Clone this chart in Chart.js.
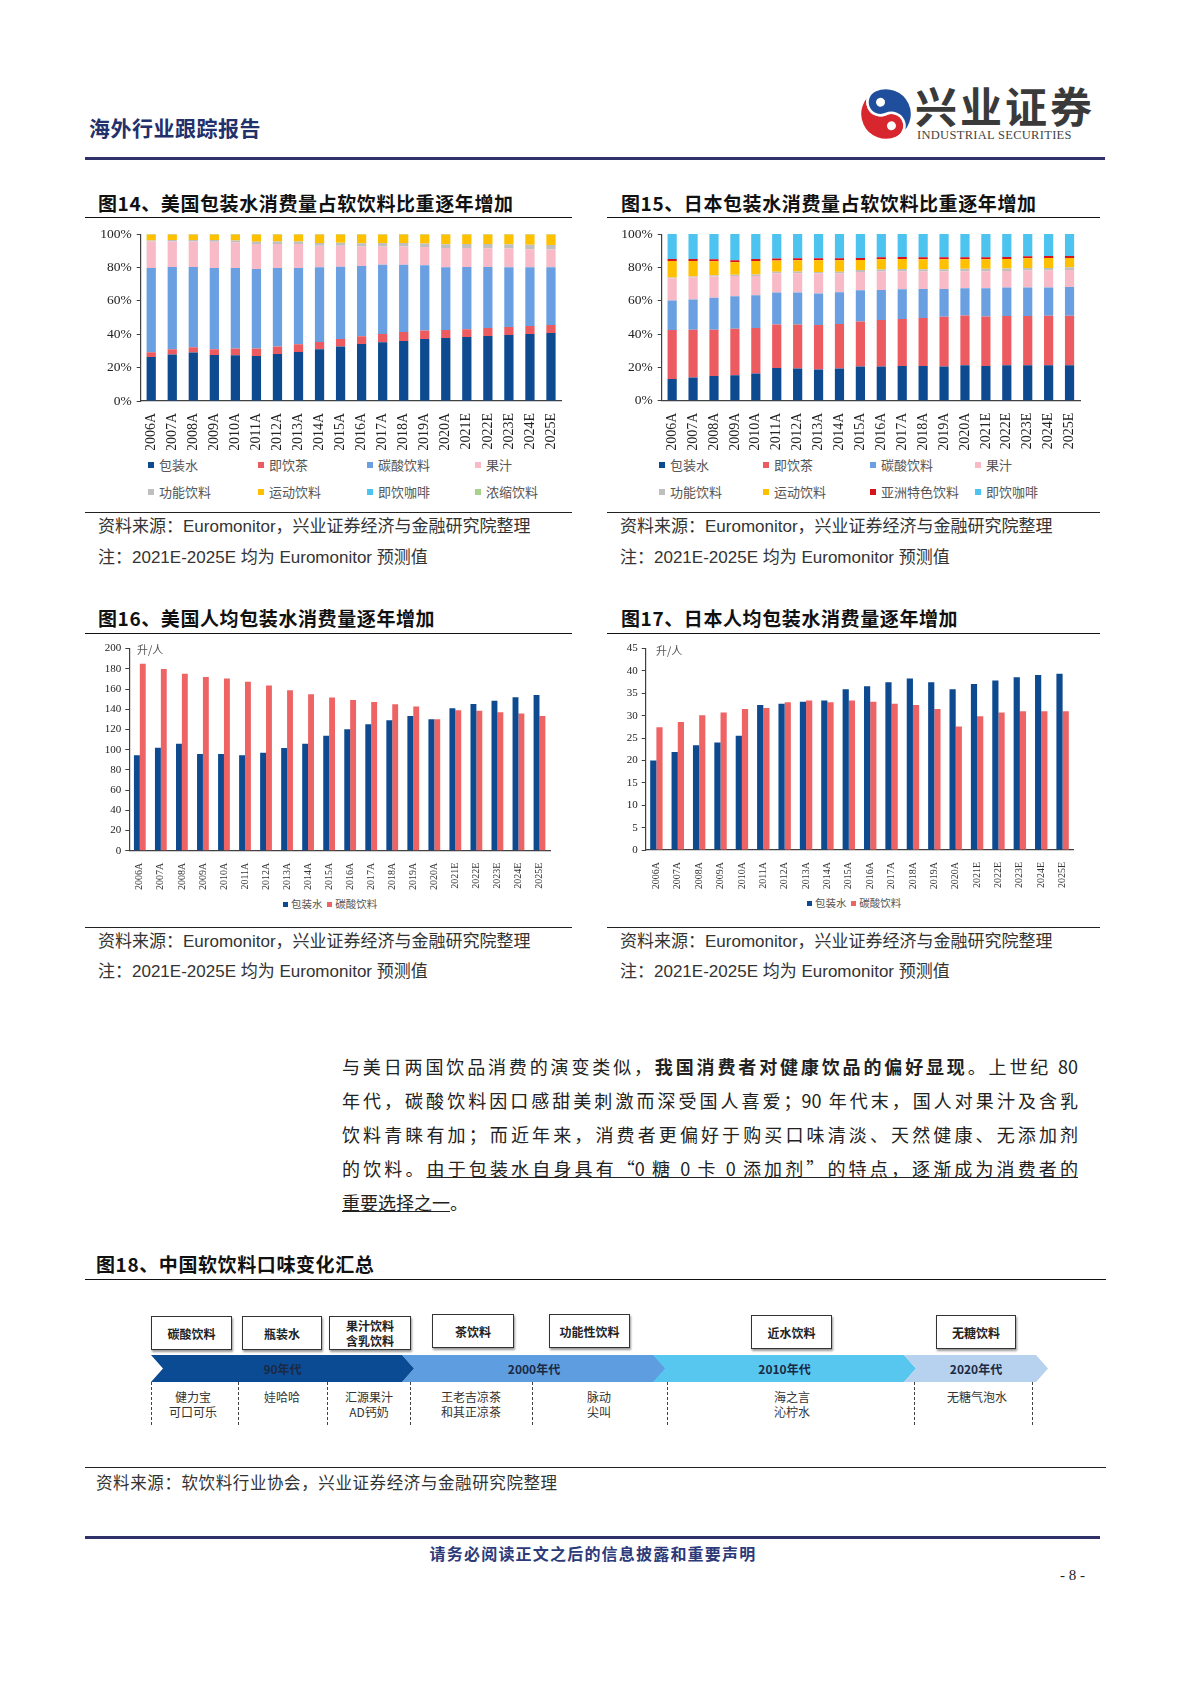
<!DOCTYPE html>
<html>
<head>
<meta charset="utf-8">
<script src="https://cdn.jsdelivr.net/npm/chart.js@4.4.0/dist/chart.umd.min.js"></script>
<style>
body{margin:0;background:#fff;}
#page{position:relative;width:1190px;height:1683px;overflow:hidden;background:#fff;font-family:"Noto Sans CJK SC",sans-serif;color:#222;}
.ttl{position:absolute;font-weight:700;font-size:19px;letter-spacing:0.6px;color:#111;line-height:22px;white-space:nowrap;}
.rule{position:absolute;height:0;border-top:1px solid #222;}
.src{position:absolute;font-size:17px;color:#333;white-space:nowrap;font-family:"Liberation Sans","Noto Sans CJK SC",sans-serif;line-height:20px;}
.lg{position:absolute;font-size:13px;color:#555;white-space:nowrap;line-height:16px;}
.lg i{display:inline-block;width:6px;height:6px;margin-right:5px;vertical-align:2px;}
.lgs{position:absolute;font-size:10.5px;color:#555;white-space:nowrap;line-height:14px;}
.lgs i{display:inline-block;width:5px;height:5px;margin-right:3px;vertical-align:1px;}
.unit{position:absolute;font-size:11px;color:#555;line-height:14px;}
.box{position:absolute;background:#fff;border:1.5px solid #333;box-shadow:1px 2px 2px #999;font-size:12px;font-weight:700;color:#222;display:flex;align-items:center;justify-content:center;text-align:center;line-height:15px;box-sizing:border-box;}
.seg{position:absolute;top:1355px;height:27px;font-size:12px;font-weight:700;color:#1b2a44;display:flex;align-items:center;justify-content:center;}
.dash{position:absolute;top:1382px;height:43px;border-left:1.3px dashed #444;}
.brand{position:absolute;font-size:12px;color:#333;text-align:center;line-height:15px;white-space:nowrap;}
.para{position:absolute;left:342px;width:736px;font-size:18px;line-height:24px;color:#222;white-space:nowrap;}
.para.j{text-align:justify;text-align-last:justify;}
.wrap{position:absolute;}
</style>
</head>
<body>
<div id="page">

  <!-- 页眉 -->
  <div style="position:absolute;left:89px;top:114px;font-size:21px;font-weight:700;color:#22306b;letter-spacing:0.5px;line-height:26px;">海外行业跟踪报告</div>
  <svg style="position:absolute;left:858px;top:85px;" width="56" height="58" viewBox="0 0 56 58">
    <g transform="rotate(-25 28 29)">
      <path d="M28,3 A26,26 0 0 0 28,55 A13,13 0 0 0 28,29 A13,13 0 0 1 28,3 Z" fill="#d7262e" stroke="#fff" stroke-width="2.5"/>
      <path d="M28,55 A26,26 0 0 0 28,3 A13,13 0 0 0 28,29 A13,13 0 0 1 28,55 Z" fill="#1f4f9c" stroke="#fff" stroke-width="2.5"/>
      <circle cx="28" cy="16" r="4.5" fill="#fff"/>
      <circle cx="28" cy="42" r="4.5" fill="#fff"/>
    </g>
  </svg>
  <div style="position:absolute;left:915px;top:80px;font-size:42px;font-weight:700;color:#3a3a3a;letter-spacing:3px;line-height:50px;">兴业证券</div>
  <div style="position:absolute;left:917px;top:128px;font-size:12.5px;color:#444;font-family:'Liberation Serif',serif;line-height:14px;letter-spacing:0.3px;">INDUSTRIAL SECURITIES</div>
  <div style="position:absolute;left:85px;top:157px;width:1020px;height:3px;background:#2f3168;"></div>

  <!-- 图14 -->
  <div class="ttl" style="left:98px;top:192px;">图14、美国包装水消费量占软饮料比重逐年增加</div>
  <div class="rule" style="left:85px;top:217px;width:487px;border-top:1.5px solid #111;"></div>
  <div class="wrap" style="left:86px;top:221px;width:486px;height:229px;"><canvas id="c14"></canvas></div>
  <div id="lg14"></div>
  <div class="rule" style="left:85px;top:512px;width:487px;"></div>
  <div class="src" style="left:98px;top:517px;">资料来源：Euromonitor，兴业证券经济与金融研究院整理</div>
  <div class="src" style="left:98px;top:548px;">注：2021E-2025E 均为 Euromonitor 预测值</div>

  <!-- 图15 -->
  <div class="ttl" style="left:621px;top:192px;">图15、日本包装水消费量占软饮料比重逐年增加</div>
  <div class="rule" style="left:607px;top:217px;width:493px;border-top:1.5px solid #111;"></div>
  <div class="wrap" style="left:607px;top:221px;width:486px;height:229px;"><canvas id="c15"></canvas></div>
  <div id="lg15"></div>
  <div class="rule" style="left:607px;top:512px;width:493px;"></div>
  <div class="src" style="left:620px;top:517px;">资料来源：Euromonitor，兴业证券经济与金融研究院整理</div>
  <div class="src" style="left:620px;top:548px;">注：2021E-2025E 均为 Euromonitor 预测值</div>

  <!-- 图16 -->
  <div class="ttl" style="left:98px;top:607px;">图16、美国人均包装水消费量逐年增加</div>
  <div class="rule" style="left:85px;top:633px;width:487px;border-top:1.5px solid #111;"></div>
  <div class="wrap" style="left:86px;top:638px;width:480px;height:252px;"><canvas id="c16"></canvas></div>
  <div class="unit" style="left:137px;top:642px;">升/人</div>
  <div class="lgs" style="left:283px;top:897px;"><i style="background:#0d4a90"></i>包装水 &nbsp;<i style="background:#ee6464"></i>碳酸饮料</div>
  <div class="rule" style="left:85px;top:927px;width:487px;"></div>
  <div class="src" style="left:98px;top:932px;">资料来源：Euromonitor，兴业证券经济与金融研究院整理</div>
  <div class="src" style="left:98px;top:962px;">注：2021E-2025E 均为 Euromonitor 预测值</div>

  <!-- 图17 -->
  <div class="ttl" style="left:621px;top:607px;">图17、日本人均包装水消费量逐年增加</div>
  <div class="rule" style="left:607px;top:633px;width:493px;border-top:1.5px solid #111;"></div>
  <div class="wrap" style="left:607px;top:638px;width:480px;height:252px;"><canvas id="c17"></canvas></div>
  <div class="unit" style="left:656px;top:643px;">升/人</div>
  <div class="lgs" style="left:807px;top:896px;"><i style="background:#0d4a90"></i>包装水 &nbsp;<i style="background:#ee6464"></i>碳酸饮料</div>
  <div class="rule" style="left:607px;top:927px;width:493px;"></div>
  <div class="src" style="left:620px;top:932px;">资料来源：Euromonitor，兴业证券经济与金融研究院整理</div>
  <div class="src" style="left:620px;top:962px;">注：2021E-2025E 均为 Euromonitor 预测值</div>

  <!-- 正文 -->
  <div class="para j" style="top:1054px;">与美日两国饮品消费的演变类似，<b>我国消费者对健康饮品的偏好显现</b>。上世纪 80</div>
  <div class="para j" style="top:1088px;">年代，碳酸饮料因口感甜美刺激而深受国人喜爱；90 年代末，国人对果汁及含乳</div>
  <div class="para j" style="top:1122px;">饮料青睐有加；而近年来，消费者更偏好于购买口味清淡、天然健康、无添加剂</div>
  <div class="para j" style="top:1156px;">的饮料。<u>由于包装水自身具有“0 糖 0 卡 0 添加剂”的特点，逐渐成为消费者的</u></div>
  <div class="para" style="top:1190px;"><u>重要选择之一</u>。</div>

  <!-- 图18 -->
  <div class="ttl" style="left:96px;top:1253px;">图18、中国软饮料口味变化汇总</div>
  <div class="rule" style="left:85px;top:1279px;width:1021px;border-top:1.5px solid #111;"></div>

  <div class="box" style="left:151px;top:1316px;width:81px;height:34px;">碳酸饮料</div>
  <div class="box" style="left:242px;top:1316px;width:80px;height:34px;">瓶装水</div>
  <div class="box" style="left:329px;top:1316px;width:82px;height:34px;">果汁饮料<br>含乳饮料</div>
  <div class="box" style="left:432px;top:1314px;width:82px;height:34px;">茶饮料</div>
  <div class="box" style="left:549px;top:1314px;width:81px;height:34px;">功能性饮料</div>
  <div class="box" style="left:751px;top:1315px;width:81px;height:34px;">近水饮料</div>
  <div class="box" style="left:936px;top:1315px;width:80px;height:34px;">无糖饮料</div>

  <div class="seg" style="left:402px;width:264px;background:#5e9de0;clip-path:polygon(0 0,252px 0,264px 50%,252px 100%,0 100%,12px 50%);">2000年代</div>
  <div class="seg" style="left:653px;width:263px;background:#58c7ef;clip-path:polygon(0 0,251px 0,263px 50%,251px 100%,0 100%,12px 50%);">2010年代</div>
  <div class="seg" style="left:904px;width:144px;background:#b7d2ee;clip-path:polygon(0 0,132px 0,144px 50%,132px 100%,0 100%,12px 50%);">2020年代</div>
  <div class="seg" style="left:151px;width:263px;background:#0b4b93;clip-path:polygon(0 0,251px 0,263px 50%,251px 100%,0 100%,12px 50%);">90年代</div>

  <div class="dash" style="left:151px;"></div>
  <div class="dash" style="left:238px;"></div>
  <div class="dash" style="left:327px;"></div>
  <div class="dash" style="left:410px;"></div>
  <div class="dash" style="left:532px;"></div>
  <div class="dash" style="left:667px;"></div>
  <div class="dash" style="left:914px;"></div>
  <div class="dash" style="left:1032px;"></div>

  <div class="brand" style="left:163px;top:1389px;width:60px;">健力宝<br>可口可乐</div>
  <div class="brand" style="left:252px;top:1389px;width:60px;">娃哈哈</div>
  <div class="brand" style="left:334px;top:1389px;width:70px;">汇源果汁<br>AD钙奶</div>
  <div class="brand" style="left:431px;top:1389px;width:80px;">王老吉凉茶<br>和其正凉茶</div>
  <div class="brand" style="left:569px;top:1389px;width:60px;">脉动<br>尖叫</div>
  <div class="brand" style="left:762px;top:1389px;width:60px;">海之言<br>沁柠水</div>
  <div class="brand" style="left:937px;top:1389px;width:80px;">无糖气泡水</div>

  <div class="rule" style="left:85px;top:1467px;width:1021px;"></div>
  <div class="src" style="left:96px;top:1472px;font-family:'Noto Sans CJK SC',sans-serif;font-size:16.5px;letter-spacing:0.6px;">资料来源：软饮料行业协会，兴业证券经济与金融研究院整理</div>

  <!-- 页脚 -->
  <div style="position:absolute;left:85px;top:1536px;width:1015px;height:3px;background:#2f3168;"></div>
  <div style="position:absolute;left:0;width:1186px;top:1543px;text-align:center;font-size:16px;font-weight:700;color:#2d3a7a;letter-spacing:1.2px;line-height:20px;">请务必阅读正文之后的信息披露和重要声明</div>
  <div style="position:absolute;left:1060px;top:1566px;font-size:15px;color:#222;font-family:'Liberation Serif',serif;line-height:18px;">- 8 -</div>
</div>

<script>
const years = ['2006A','2007A','2008A','2009A','2010A','2011A','2012A','2013A','2014A','2015A',
               '2016A','2017A','2018A','2019A','2020A','2021E','2022E','2023E','2024E','2025E'];

// 图14 美国软饮料消费结构（%）
const usNames = ['包装水','即饮茶','碳酸饮料','果汁','功能饮料','运动饮料','即饮咖啡','浓缩饮料'];
const usWater  = [26.4,27.8,29.0,27.6,27.4,27.0,28.2,29.4,31.0,32.6,34.2,35.2,36.0,37.2,37.8,38.4,39.0,39.6,40.2,40.8];
const usTea    = [2.8,3.2,3.2,3.4,4.0,4.4,4.4,4.6,4.4,4.6,4.6,5.0,5.4,5.1,4.7,4.6,4.7,4.7,4.7,4.7];
const usCarb   = [50.5,49.3,48.1,48.7,48.3,47.7,47.1,45.7,44.7,43.3,42.1,41.5,40.3,39.0,37.6,37.3,36.6,35.8,35.2,34.6];
const usJuice  = [15.9,15.3,15.3,15.7,15.3,14.9,14.3,14.3,12.9,12.5,11.7,10.9,10.9,10.9,11.5,11.3,11.2,11.2,10.8,10.6];
const usEnergy = [0.6,0.8,0.9,1.0,1.2,1.4,1.5,1.6,1.7,1.8,1.9,2.0,2.1,2.2,2.3,2.4,2.5,2.6,2.7,2.8];
const usSports = [3.5,3.3,3.2,3.3,3.5,4.3,4.2,4.1,5.0,4.9,5.2,5.1,5.0,5.3,5.8,5.7,5.7,5.8,6.1,6.2];
const usCoffee = [0.2,0.2,0.2,0.2,0.2,0.2,0.2,0.2,0.2,0.2,0.2,0.2,0.2,0.2,0.2,0.2,0.2,0.2,0.2,0.2];
const usConc   = [0.1,0.1,0.1,0.1,0.1,0.1,0.1,0.1,0.1,0.1,0.1,0.1,0.1,0.1,0.1,0.1,0.1,0.1,0.1,0.1];
const usColors = ['#0d4a90','#ec5b60','#6aa0e2','#f8bac7','#bfbfbf','#ffc000','#4cc4ef','#a9d18e'];

// 图15 日本软饮料消费结构（%）
const jpNames = ['包装水','即饮茶','碳酸饮料','果汁','功能饮料','运动饮料','亚洲特色饮料','即饮咖啡'];
const jpWater  = [13.1,13.9,14.9,15.3,16.3,19.7,19.3,18.7,19.3,20.5,20.5,20.9,20.9,20.5,21.3,20.9,21.3,21.3,21.3,21.3];
const jpTea    = [29.3,28.7,27.7,27.9,27.3,26.1,26.5,26.7,26.7,27.1,27.9,28.1,28.7,29.9,29.9,29.7,29.5,29.5,29.7,29.7];
const jpCarb   = [17.8,18.2,19.2,19.5,19.7,19.1,19.1,18.9,19.1,18.7,18.1,17.9,17.5,16.7,16.3,16.9,17.1,17.1,16.9,17.3];
const jpJuice  = [13.3,13.3,12.9,12.2,11.6,11.6,11.6,12.0,11.2,11.0,11.0,10.8,10.4,10.4,10.2,10.2,10.0,10.2,10.2,10.2];
const jpEnergy = [0.4,0.5,0.6,0.7,0.8,0.9,1.0,1.0,1.1,1.2,1.3,1.3,1.4,1.4,1.5,1.5,1.5,1.6,1.6,1.6];
const jpSports = [10.0,9.3,8.4,7.5,8.2,6.7,6.8,7.0,6.9,6.0,6.1,6.1,6.0,6.0,5.7,5.7,5.7,5.8,6.0,5.6];
const jpAsian  = [1.2,1.2,1.2,1.2,1.2,1.2,1.2,1.2,1.2,1.2,1.2,1.2,1.2,1.2,1.2,1.2,1.2,1.2,1.2,1.2];
const jpCoffee = [14.9,14.9,15.1,15.7,14.9,14.7,14.5,14.5,14.5,14.3,13.9,13.7,13.9,13.9,13.9,13.9,13.7,13.3,13.1,13.1];
const jpColors = ['#0d4a90','#ec5b60','#6aa0e2','#f8bac7','#bfbfbf','#ffc000','#d7141e','#4cc4ef'];

// 图16 美国人均消费量（升/人）
const usPerWater = [94.4,102.0,105.9,95.7,95.7,94.4,97.0,101.6,105.9,113.8,120.3,125.2,129.2,133.4,130.2,141.0,145.2,148.5,151.8,154.1];
const usPerCarb  = [184.9,179.7,175.1,171.8,170.5,167.2,163.6,158.7,154.8,151.5,149.2,147.2,144.9,142.6,130.2,139.0,138.4,137.0,135.7,133.4];

// 图17 日本人均消费量（升/人）
const jpPerWater = [20.0,21.9,23.4,24.0,25.5,32.4,32.7,33.1,33.4,35.9,36.6,37.5,38.3,37.5,35.9,37.1,37.9,38.6,39.1,39.4];
const jpPerCarb  = [27.4,28.6,30.1,30.7,31.5,31.7,33.0,33.4,33.0,33.4,33.1,32.7,32.4,31.5,27.6,29.9,30.7,31.0,31.0,31.0];

const serif = 'Liberation Serif';
const axisColor = '#404040';

function shareChart(id, names, colors, series, yWidth, xHeight, padRight)
{
    const datasets = series.map((d, i) => ({
        label: names[i],
        data: d,
        backgroundColor: colors[i],
        barPercentage: 0.44,
        categoryPercentage: 1
    }));
    new Chart(document.getElementById(id), {
        type: 'bar',
        data: { labels: years, datasets: datasets },
        options: {
            responsive: true,
            maintainAspectRatio: false,
            animation: false,
            layout: { padding: { top: 12, right: padRight, left: 0, bottom: 0 } },
            plugins: { legend: { display: false }, tooltip: { enabled: false } },
            scales: {
                x: {
                    stacked: true,
                    grid: { display: false },
                    border: { color: axisColor, width: 1.2 },
                    ticks: { autoSkip: false, minRotation: 90, maxRotation: 90, padding: 4, color: '#222',
                             font: { family: serif, size: 14 } },
                    afterFit: s => { s.height = xHeight }
                },
                y: {
                    stacked: true,
                    min: 0, max: 100,
                    grid: { drawOnChartArea: false, color: axisColor, tickLength: 4 },
                    border: { color: axisColor, width: 1.2 },
                    ticks: { stepSize: 20, padding: 5, color: '#222', callback: v => v + '%',
                             font: { family: serif, size: 13.5 } },
                    afterFit: s => { s.width = yWidth }
                }
            }
        }
    });
}

function perCapitaChart(id, water, carb, ymax, step, yWidth, xHeight, padTop, padRight, catPct)
{
    new Chart(document.getElementById(id), {
        type: 'bar',
        data: {
            labels: years,
            datasets: [{
                label: '包装水', data: water, backgroundColor: '#0d4a90',
                barPercentage: 1, categoryPercentage: catPct
            }, {
                label: '碳酸饮料', data: carb, backgroundColor: '#ee6464',
                barPercentage: 1, categoryPercentage: catPct
            }]
        },
        options: {
            responsive: true,
            maintainAspectRatio: false,
            animation: false,
            layout: { padding: { top: padTop, right: padRight, left: 0, bottom: 0 } },
            plugins: { legend: { display: false }, tooltip: { enabled: false } },
            scales: {
                x: {
                    grid: { display: false },
                    border: { color: axisColor, width: 1.2 },
                    ticks: { autoSkip: false, minRotation: 90, maxRotation: 90, padding: 4, color: '#333',
                             font: { family: serif, size: 10 } },
                    afterFit: s => { s.height = xHeight }
                },
                y: {
                    min: 0, max: ymax,
                    grid: { drawOnChartArea: false, color: axisColor, tickLength: 4 },
                    border: { color: axisColor, width: 1.2 },
                    ticks: { stepSize: step, padding: 4, color: '#222', font: { family: serif, size: 11 } },
                    afterFit: s => { s.width = yWidth }
                }
            }
        }
    });
}

// html legends for the two share charts (4 columns x 2 rows)
function gridLegend(hostId, names, colors, cols, rows)
{
    let html = '';
    names.forEach((n, i) => {
        const x = cols[i % 4], y = rows[Math.floor(i / 4)];
        html += '<div class="lg" style="left:' + x + 'px;top:' + y + 'px;"><i style="background:' + colors[i] + '"></i>' + n + '</div>';
    });
    document.getElementById(hostId).innerHTML = html;
}

shareChart('c14', usNames, usColors, [usWater, usTea, usCarb, usJuice, usEnergy, usSports, usCoffee, usConc], 54.7, 49, 9);
shareChart('c15', jpNames, jpColors, [jpWater, jpTea, jpCarb, jpJuice, jpEnergy, jpSports, jpAsian, jpCoffee], 54.7, 49.3, 13);
perCapitaChart('c16', usPerWater, usPerCarb, 200, 20, 43.3, 39.3, 9.3, 16, 0.56);
perCapitaChart('c17', jpPerWater, jpPerCarb, 45, 5, 38.7, 40, 10.3, 13.7, 0.58);

gridLegend('lg14', usNames, usColors, [148, 258, 367, 475], [457, 484]);
gridLegend('lg15', jpNames, jpColors, [659, 763, 870, 975], [457, 484]);
</script>
</body>
</html>
